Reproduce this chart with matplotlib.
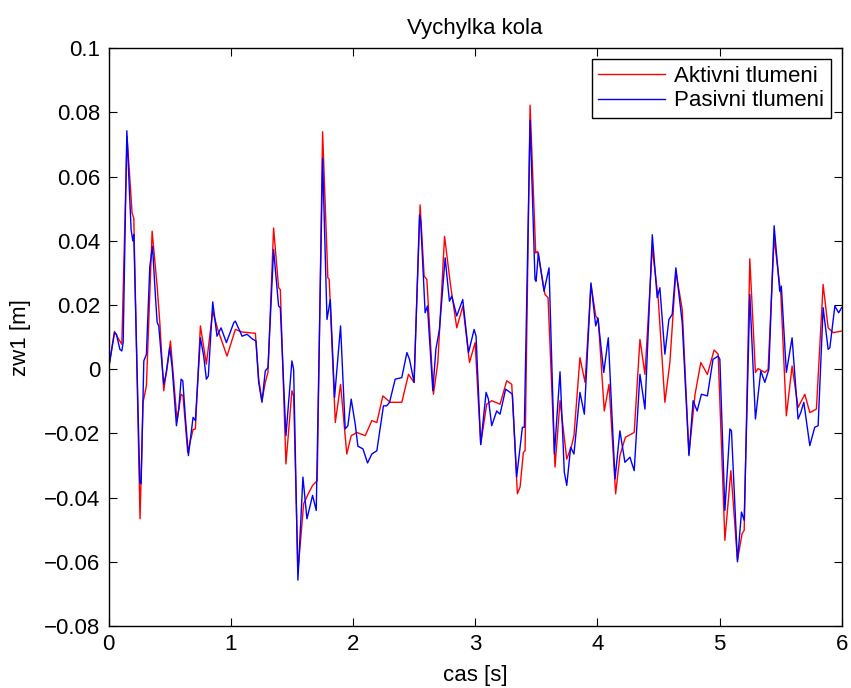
import numpy as np
import matplotlib
matplotlib.use('Agg')
from matplotlib import pyplot as plt

# aktivni tlumeni (red)
t_akt = [0.0, 0.049, 0.084, 0.109, 0.152, 0.193, 0.207, 0.258, 0.283, 0.31,
         0.357, 0.398, 0.42, 0.452, 0.507, 0.561, 0.594, 0.61, 0.648, 0.692,
         0.711, 0.752, 0.801, 0.853, 0.894, 0.97, 1.038, 1.093, 1.202, 1.229,
         1.256, 1.283, 1.305, 1.351, 1.392, 1.406, 1.452, 1.501, 1.515, 1.55,
         1.597, 1.635, 1.67, 1.708, 1.752, 1.795, 1.806, 1.856, 1.899, 1.95,
         1.986, 2.033, 2.101, 2.155, 2.196, 2.245, 2.305, 2.4, 2.455, 2.5,
         2.55, 2.583, 2.605, 2.659, 2.695, 2.75, 2.8, 2.85, 2.9, 2.954,
         3.0, 3.046, 3.095, 3.136, 3.204, 3.259, 3.3, 3.346, 3.368, 3.395,
         3.409, 3.45, 3.496, 3.512, 3.572, 3.597, 3.654, 3.695, 3.75, 3.79,
         3.809, 3.858, 3.9, 3.948, 3.987, 4.008, 4.057, 4.096, 4.15, 4.185,
         4.23, 4.302, 4.349, 4.39, 4.45, 4.499, 4.553, 4.594, 4.643, 4.695,
         4.75, 4.8, 4.847, 4.901, 4.956, 4.989, 5.044, 5.093, 5.147, 5.185,
         5.202, 5.248, 5.294, 5.316, 5.371, 5.398, 5.447, 5.502, 5.547, 5.594,
         5.643, 5.698, 5.739, 5.793, 5.848, 5.889, 5.93, 6.0]
zw_akt = [0.0, 0.0118, 0.0093, 0.0078, 0.0725, 0.0487, 0.047, -0.0466, -0.0103, -0.0052,
          0.043, 0.0259, 0.0145, -0.0067, 0.0088, -0.016, -0.0078, -0.0083, -0.0259, -0.0188,
          -0.0186, 0.0135, 0.0016, 0.0181, 0.0124, 0.0041, 0.0124, 0.0116, 0.0112, -0.0031,
          -0.0098, -0.0041, -0.001, 0.044, 0.0254, 0.0248, -0.0295, -0.0067, -0.0083, -0.0631,
          -0.0419, -0.0388, -0.0362, -0.0347, 0.074, 0.0285, 0.028, -0.0166, -0.0047, -0.0264,
          -0.0207, -0.0197, -0.0207, -0.016, -0.0166, -0.0083, -0.0103, -0.0103, -0.0016, -0.0041,
          0.0512, 0.029, 0.028, -0.0078, 0.0021, 0.0414, 0.0259, 0.0129, 0.0197, 0.0021,
          0.0083, -0.0233, -0.0109, -0.0098, -0.0109, -0.0036, -0.0047, -0.0388, -0.0367, -0.0259,
          -0.0254, 0.0823, 0.0362, 0.0367, 0.0233, 0.0223, -0.0305, -0.0098, -0.028, -0.0238,
          -0.0207, 0.0036, -0.0041, 0.0264, 0.0166, 0.0155, -0.013, -0.0047, -0.0388, -0.0269,
          -0.0212, -0.0197, 0.0093, -0.0016, 0.0378, 0.0217, -0.0103, 0.0021, 0.0305, 0.0186,
          -0.0264, -0.0078, 0.0021, -0.0016, 0.006, 0.0047, -0.0533, -0.0316, -0.0595, -0.0512,
          -0.0502, 0.0344, -0.001, 0.0002, -0.001, 0.0, 0.0409, 0.0233, -0.0145, 0.001,
          -0.0119, -0.0078, -0.0135, -0.0124, 0.0264, 0.0129, 0.0114, 0.0119]

# pasivni tlumeni (blue)
t_pas = [0.0, 0.049, 0.065, 0.093, 0.109, 0.12, 0.15, 0.185, 0.199, 0.207,
         0.256, 0.267, 0.289, 0.31, 0.338, 0.36, 0.384, 0.398, 0.411, 0.452,
         0.474, 0.501, 0.52, 0.556, 0.575, 0.594, 0.608, 0.63, 0.654, 0.692,
         0.711, 0.752, 0.779, 0.801, 0.817, 0.853, 0.888, 0.921, 0.965, 1.025,
         1.038, 1.093, 1.134, 1.175, 1.207, 1.229, 1.256, 1.283, 1.305, 1.351,
         1.392, 1.406, 1.452, 1.501, 1.515, 1.55, 1.591, 1.624, 1.67, 1.70,
         1.752, 1.788, 1.815, 1.85, 1.899, 1.937, 1.959, 1.986, 2.019, 2.041,
         2.082, 2.12, 2.155, 2.196, 2.25, 2.277, 2.3, 2.346, 2.4, 2.442,
         2.463, 2.501, 2.545, 2.555, 2.591, 2.61, 2.654, 2.679, 2.708, 2.755,
         2.79, 2.809, 2.85, 2.899, 2.946, 2.992, 3.008, 3.046, 3.09, 3.109,
         3.136, 3.177, 3.204, 3.25, 3.286, 3.305, 3.34, 3.387, 3.403, 3.45,
         3.49, 3.499, 3.518, 3.564, 3.605, 3.649, 3.695, 3.73, 3.75, 3.782,
         3.809, 3.858, 3.894, 3.948, 3.987, 4.005, 4.053, 4.09, 4.145, 4.185,
         4.226, 4.267, 4.302, 4.349, 4.39, 4.45, 4.49, 4.512, 4.553, 4.586,
         4.613, 4.643, 4.695, 4.75, 4.784, 4.817, 4.852, 4.901, 4.947, 4.989,
         5.003, 5.044, 5.085, 5.098, 5.147, 5.18, 5.202, 5.248, 5.294, 5.338,
         5.371, 5.404, 5.447, 5.493, 5.506, 5.547, 5.594, 5.643, 5.665, 5.69,
         5.739, 5.779, 5.807, 5.848, 5.889, 5.903, 5.944, 5.975, 6.0]
zw_pas = [0.0, 0.0114, 0.0109, 0.0062, 0.0057, 0.0083, 0.0743, 0.0435, 0.040, 0.042,
          -0.0352, -0.0357, 0.0026, 0.0046, 0.032, 0.0383, 0.0228, 0.0146, 0.0135, -0.0047,
          -0.001, 0.0067, 0.001, -0.0176, -0.0124, -0.0031, -0.0036, -0.0155, -0.0269, -0.015,
          -0.016, 0.0098, 0.0041, -0.0031, -0.0021, 0.021, 0.0103, 0.0129, 0.0083, 0.0145,
          0.015, 0.0103, 0.0109, 0.0095, 0.0088, -0.0041, -0.0103, -0.0005, 0.0005, 0.0373,
          0.0197, 0.0192, -0.0207, 0.0026, 0.0, -0.0657, -0.0336, -0.0466, -0.0393, -0.044,
          0.0657, 0.0155, 0.0217, -0.0088, 0.0135, -0.0186, -0.0176, -0.0093, -0.0171, -0.024,
          -0.0248, -0.0292, -0.0264, -0.0254, -0.0114, -0.0114, -0.0103, -0.0031, -0.0026, 0.0052,
          0.0031, -0.0041, 0.0481, 0.0461, 0.0176, 0.0197, -0.0067, 0.0062, 0.0124, 0.0347,
          0.0212, 0.0228, 0.0166, 0.0217, 0.0052, 0.0124, 0.0103, -0.0235, -0.0072, -0.0093,
          -0.0176, -0.013, -0.014, -0.0062, -0.0072, -0.0078, -0.0336, -0.0181, -0.0181, 0.0776,
          0.028, 0.0274, 0.0362, 0.0243, 0.0316, -0.0264, -0.0008, -0.0321, -0.0362, -0.0243,
          -0.0264, -0.0072, -0.014, 0.0269, 0.0135, 0.016, -0.001, 0.0098, -0.0342, -0.0192,
          -0.029, -0.0274, -0.0316, -0.0016, -0.0124, 0.0419, 0.0223, 0.0254, 0.0047, 0.0155,
          0.0171, 0.0316, 0.0145, -0.0269, -0.0098, -0.013, -0.0078, -0.0083, 0.0031, 0.0041,
          0.0031, -0.044, -0.0186, -0.0192, -0.06, -0.0445, -0.0471, 0.0233, -0.0155, -0.0005,
          -0.0041, 0.0, 0.0447, 0.0243, 0.0259, -0.001, 0.0098, -0.0155, -0.0135, -0.0103,
          -0.0238, -0.0181, -0.0176, 0.0192, 0.0062, 0.0067, 0.0197, 0.0176, 0.0192]

xticks = [0, 1, 2, 3, 4, 5, 6]
yticks = np.arange(-0.08, 0.1001, 0.02)
ytick_labels = ['\u22120.08', '\u22120.06', '\u22120.04', '\u22120.02', '0',
                '0.02', '0.04', '0.06', '0.08', '0.1']

plt.rcParams['font.family'] = ['Liberation Sans', 'DejaVu Sans']
plt.rcParams['font.size'] = 16

fig = plt.figure(figsize=(8.51, 6.88), dpi=100)
ax = fig.add_axes([108.5 / 851, 1 - 626 / 688, (841.7 - 108.5) / 851, (626 - 48.3) / 688])

ax.plot(t_akt, zw_akt, color='#ff0000', lw=1.0, label='Aktivni tlumeni')
ax.plot(t_pas, zw_pas, color='#0000ff', lw=1.0, label='Pasivni tlumeni')

ax.set_xlim(0, 6)
ax.set_ylim(-0.08, 0.1)
ax.set_xticks(xticks)
ax.set_xticklabels([str(x) for x in xticks])
ax.set_yticks(yticks)
ax.set_yticklabels(ytick_labels)
ax.tick_params(direction='in', top=True, right=True, length=6, width=0.8, pad=6,
               labelsize=16)
for sp in ax.spines.values():
    sp.set_linewidth(1.0)

ax.set_title('Vychylka kola', fontsize=16, pad=10)
ax.set_xlabel('cas [s]', fontsize=16, labelpad=7)
ax.set_ylabel('zw1 [m]', fontsize=16, labelpad=9)

leg = ax.legend(loc='upper right', fontsize=16, handlelength=3.0, handletextpad=0.4,
                borderaxespad=0.5, borderpad=0.3, labelspacing=0.15, fancybox=False)
leg.get_frame().set_edgecolor('black')
leg.get_frame().set_linewidth(1.0)
leg.get_frame().set_alpha(1.0)

fig.savefig('out.png', dpi=100)
